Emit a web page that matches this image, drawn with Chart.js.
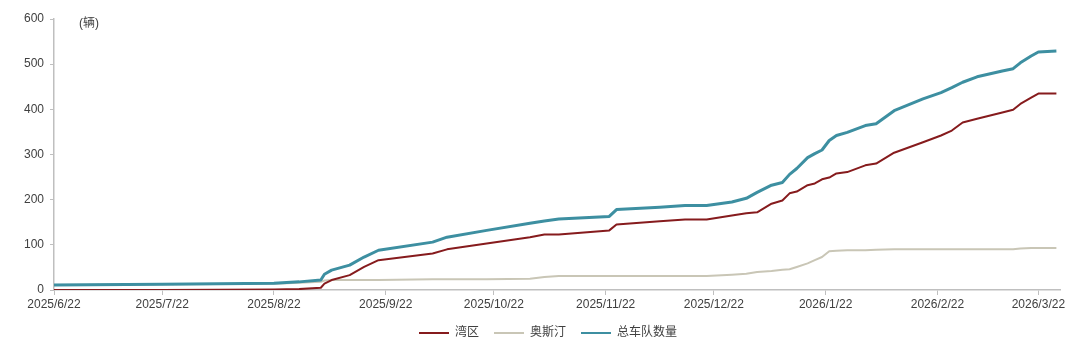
<!DOCTYPE html>
<html>
<head>
<meta charset="utf-8">
<script src="https://cdn.jsdelivr.net/npm/chart.js@4.4.1/dist/chart.umd.min.js"></script>
<style>
  html, body { margin: 0; padding: 0; background: #fff; }
  #wrap { width: 1080px; height: 342px; }
</style>
</head>
<body>
<div id="wrap"><canvas id="chart" width="1080" height="342"></canvas></div>
<script>
// sample dates
const dates = [
  '2025-06-22', '2025-07-22', '2025-08-22', '2025-08-29', '2025-09-04', '2025-09-05',
  '2025-09-07', '2025-09-12', '2025-09-16', '2025-09-20', '2025-10-05', '2025-10-09',
  '2025-10-20', '2025-11-01', '2025-11-05', '2025-11-09', '2025-11-23', '2025-11-25',
  '2025-12-07', '2025-12-14', '2025-12-20', '2025-12-27', '2025-12-31', '2026-01-03',
  '2026-01-07', '2026-01-10', '2026-01-12', '2026-01-14', '2026-01-17', '2026-01-19',
  '2026-01-21', '2026-01-23', '2026-01-25', '2026-01-28', '2026-02-02', '2026-02-05',
  '2026-02-10', '2026-02-18', '2026-02-23', '2026-02-26', '2026-03-01', '2026-03-05',
  '2026-03-12', '2026-03-15', '2026-03-17', '2026-03-20', '2026-03-22', '2026-03-27'
];
const bayArea = [
  0, 0, 1, 2, 5, 14,
  22, 33, 51, 66, 81, 90,
  103, 117, 123, 123, 132, 145,
  152, 156, 156, 165, 170, 172,
  191, 198, 214, 218, 232, 236,
  245, 249, 258, 261, 276, 280,
  304, 327, 342, 353, 371, 379,
  393, 399, 412, 426, 435, 435
];
const austin = [
  11, 13, 14, 16, 18, 21,
  22, 22, 22, 22, 24, 24,
  24, 25, 29, 31, 31, 31,
  31, 31, 31, 34, 36, 40,
  42, 45, 46, 51, 59, 66,
  73, 86, 87, 88, 88, 89,
  90, 90, 90, 90, 90, 90,
  90, 90, 92, 93, 93, 93
];
const fleetTotal = [
  11, 13, 15, 18, 22, 35,
  44, 55, 73, 88, 106, 117,
  132, 148, 153, 157, 163, 178,
  183, 187, 187, 195, 203, 216,
  232, 238, 256, 269, 293, 302,
  310, 331, 342, 349, 364, 368,
  397, 423, 437, 448, 460, 472,
  485, 490, 503, 518, 527, 529
];
const xTickLabels = [
  '2025/6/22', '2025/7/22', '2025/8/22', '2025/9/22', '2025/10/22',
  '2025/11/22', '2025/12/22', '2026/1/22', '2026/2/22', '2026/3/22'
];
const yTicks = [0, 100, 200, 300, 400, 500, 600];

const DAY = 86400000;
function toUtc(s) {
  const p = s.split(/[-\/]/).map(Number);
  return Date.UTC(p[0], p[1] - 1, p[2]);
}
const start = toUtc(dates[0]);
const dayOf = s => Math.round((toUtc(s) - start) / DAY);
const tickDays = xTickLabels.map(dayOf);
const pts = arr => arr.map((v, i) => ({ x: dayOf(dates[i]), y: v }));

const font = "'Liberation Sans', Arial, 'Noto Sans CJK SC', sans-serif";
const axisColor = '#bfbfbf';
const textColor = '#404040';

const unitLabel = {
  id: 'unitLabel',
  afterLayout(chart) {
    // legend sits a bit right of centre in the original
    chart.legend.left += 18;
    chart.legend.right += 18;
  },
  afterDraw(chart) {
    const c = chart.ctx;
    c.save();
    c.font = '12px ' + font;
    c.fillStyle = textColor;
    c.textBaseline = 'middle';
    c.fillText('(辆)', 79, 24);
    c.restore();
  }
};

new Chart(document.getElementById('chart'), {
  type: 'line',
  data: {
    datasets: [
      { label: '湾区', data: pts(bayArea), borderColor: '#861B1D', backgroundColor: '#861B1D', borderWidth: 2, order: 1 },
      { label: '奥斯汀', data: pts(austin), borderColor: '#C9C6B6', backgroundColor: '#C9C6B6', borderWidth: 2, order: 2 },
      { label: '总车队数量', data: pts(fleetTotal), borderColor: '#3D8FA1', backgroundColor: '#3D8FA1', borderWidth: 3, order: 0 }
    ]
  },
  options: {
    responsive: false,
    animation: false,
    layout: { padding: { top: 19, right: 20, left: 0, bottom: 0 } },
    elements: { point: { radius: 0 }, line: { tension: 0, borderJoinStyle: 'round' } },
    plugins: {
      tooltip: { enabled: false },
      legend: {
        position: 'bottom',
        maxHeight: 30,
        labels: {
          boxWidth: 30,
          boxHeight: 2,
          padding: 15,
          color: textColor,
          font: { size: 12, family: font },
          generateLabels: chart =>
            Chart.defaults.plugins.legend.labels.generateLabels(chart)
              .map(l => Object.assign(l, { lineWidth: 0 })),
          sort: (a, b) => a.datasetIndex - b.datasetIndex
        }
      }
    },
    scales: {
      x: {
        type: 'linear',
        min: 0,
        max: dayOf('2026-03-28'),
        afterBuildTicks: axis => { axis.ticks = tickDays.map(v => ({ value: v })); },
        afterFit: axis => { axis.height = 22; },
        ticks: {
          autoSkip: false,
          maxRotation: 0,
          padding: 2,
          color: textColor,
          font: { size: 12, family: font },
          callback: v => xTickLabels[tickDays.indexOf(v)]
        },
        grid: { drawOnChartArea: false, drawTicks: true, tickLength: 5, color: axisColor },
        border: { color: axisColor, width: 1.5 }
      },
      y: {
        min: 0,
        max: 600,
        afterBuildTicks: axis => { axis.ticks = yTicks.map(v => ({ value: v })); },
        afterFit: axis => { axis.width = 54; },
        ticks: {
          padding: 6,
          color: textColor,
          font: { size: 12, family: font }
        },
        grid: { drawOnChartArea: false, drawTicks: true, tickLength: 4, color: axisColor },
        border: { color: axisColor, width: 1.5 }
      }
    }
  },
  plugins: [unitLabel]
});
</script>
</body>
</html>
